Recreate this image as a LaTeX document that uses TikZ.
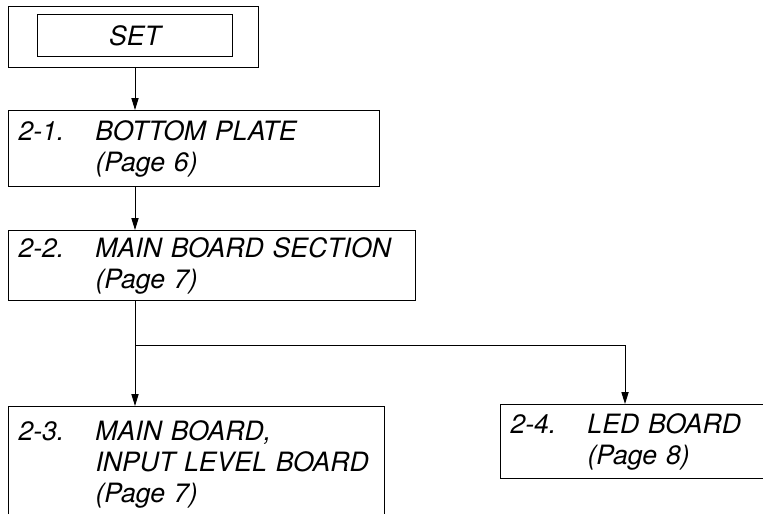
\documentclass[tikz,border=0pt]{standalone}
\usepackage{fontspec}
\setmainfont{TeX Gyre Heros}
\usepackage{tikz}
\usetikzlibrary{positioning,arrows.meta}
\newcommand{\secno}[1]{\makebox[38.5pt][l]{#1}}
\newcommand{\secind}{\hspace*{38.5pt}}
\tikzset{
  secbox/.style ={rectangle, draw, line width=0.5pt, anchor=north west,
                 inner xsep=5pt, inner ysep=0pt, align=left,
                 font=\fontsize{13.3}{15.5}\selectfont\itshape},
  setbox/.style ={rectangle, draw, line width=0.5pt, anchor=north west, inner sep=0pt,
                 font=\fontsize{13.3}{15.5}\selectfont\itshape},
  arr/.style    ={-{Triangle[length=6pt,width=3.6pt]}, line width=0.5pt},
}
\begin{document}
\begin{tikzpicture}[x=0.5pt, y=-0.5pt]
  \useasboundingbox (0,0) rectangle (763,514);
  % top: SET (double frame)
  \node[setbox, minimum width=125pt, minimum height=30.5pt] (set) at (8,6) {};
  \node[setbox, minimum width=97.5pt, minimum height=21pt,
        below right=4pt and 14.5pt of set.north west] (setin) {SET};
  % chain of sections
  \node[secbox, text width=175.5pt, minimum height=38pt,
        below right=21pt and 0pt of set.south west] (b21)
        {\secno{2-1.}BOTTOM PLATE\\\secind(Page 6)};
  \node[secbox, text width=193.5pt, minimum height=35pt,
        below right=21.5pt and 0pt of b21.south west] (b22)
        {\secno{2-2.}MAIN BOARD SECTION\\\secind(Page 7)};
  \node[secbox, draw=none, text width=177.5pt, minimum height=58pt,
        below right=52.5pt and 0pt of b22.south west] (b23)
        {\secno{2-3.}MAIN BOARD,\\\secind INPUT LEVEL BOARD\\\secind(Page 7)};
  \node[secbox, text width=121.5pt, minimum height=37pt,
        right=58pt of b23.north east, anchor=north west, yshift=1pt] (b24)
        {\secno{2-4.}LED BOARD\\\secind(Page 8)};
  % 2-3 runs off the page: no bottom edge
  \coordinate (cut) at (0,514);
  \draw[line width=0.5pt] (b23.north west |- cut) |- (b23.north east) -- (b23.north east |- cut);
  % connectors
  \coordinate (spine) at (135,0);
  \coordinate (split) at (135,345);
  \draw[arr] (set.south -| spine) -- (b21.north -| spine);
  \draw[arr] (b21.south -| spine) -- (b22.north -| spine);
  \draw[line width=0.5pt] (b22.south -| split) -- (split);
  \draw[arr] (split) -- (b23.north -| split);
  \draw[arr] (split) -| ([xshift=62.5pt]b24.north west);
\end{tikzpicture}
\end{document}
